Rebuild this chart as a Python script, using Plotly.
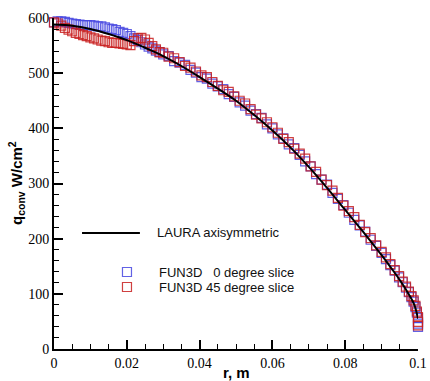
import plotly.graph_objects as go

# ---- data ----
laura_r = [0, 0.005, 0.01, 0.015, 0.02, 0.025, 0.03, 0.035, 0.04, 0.045, 0.05, 0.055,
           0.06, 0.065, 0.07, 0.075, 0.08, 0.085, 0.09, 0.0925, 0.095, 0.0975, 0.099, 0.1]
laura_q = [588, 586, 580, 571, 560, 546, 531, 513, 493, 472, 450, 424,
           396, 365, 330, 292, 252, 212, 170, 148, 125, 99, 80, 55]

fun0_r = [0.000, 0.001, 0.002, 0.003, 0.004, 0.005, 0.006, 0.007, 0.008, 0.009,
          0.010, 0.011, 0.012, 0.013, 0.014, 0.015, 0.016, 0.017, 0.018, 0.019,
          0.020, 0.021, 0.022, 0.023, 0.024, 0.025, 0.026, 0.027, 0.028, 0.029,
          0.0300, 0.0315, 0.0330, 0.0345, 0.0360, 0.0375, 0.0390, 0.0405, 0.0420, 0.0435,
          0.0450, 0.0465, 0.0480, 0.0495, 0.0510, 0.0525, 0.0540, 0.0555, 0.0570, 0.0585,
          0.0600, 0.0615, 0.0630, 0.0645, 0.0660, 0.0675, 0.0690, 0.0705, 0.0720, 0.0735,
          0.0750, 0.0765, 0.0780, 0.0795, 0.0810, 0.0825, 0.0840, 0.0855, 0.0870, 0.0885,
          0.0900, 0.0912, 0.0924, 0.0936, 0.0948, 0.0958, 0.0967, 0.0975, 0.0982, 0.0988,
          0.0993, 0.0997, 0.1000, 0.1000, 0.1000]
fun0_q = [592, 594, 594, 593, 591, 590, 589, 588, 587, 587,
          587, 586, 585, 585, 583, 581, 580, 578, 575, 573,
          571, 567, 563, 560, 556, 552, 548, 545, 541, 538,
          534, 531, 522, 519, 515, 506, 501, 493, 490, 481,
          476, 471, 462, 457, 447, 441, 432, 426, 419, 407,
          400, 389, 382, 371, 364, 352, 340, 331, 317, 307,
          298, 283, 272, 261, 247, 234, 224, 213, 198, 187,
          174, 163, 152, 142, 130, 121, 111, 103, 94, 86,
          76, 66, 56, 46, 40]

fun45_r = fun0_r
fun45_q = [592, 590, 586, 582, 579, 576, 573, 571, 569, 567,
           565, 563, 561, 559, 558, 556, 555, 555, 554, 553,
           552, 551, 558, 563, 564, 561, 555, 549, 543, 538,
           537, 530, 527, 520, 513, 510, 503, 496, 493, 484,
           477, 469, 466, 458, 450, 445, 435, 425, 418, 411,
           402, 392, 381, 375, 363, 354, 345, 331, 321, 307,
           297, 287, 274, 260, 250, 239, 225, 212, 201, 188,
           176, 166, 154, 143, 132, 122, 113, 104, 96, 88,
           78, 68, 58, 49, 43]

x_ticks = [0, 0.02, 0.04, 0.06, 0.08, 0.1]
x_ticklabels = ["0", "0.02", "0.04", "0.06", "0.08", "0.1"]
y_ticks = [0, 100, 200, 300, 400, 500, 600]

legend_labels = ["LAURA axisymmetric", "FUN3D&nbsp;&nbsp;&nbsp;0 degree slice", "FUN3D 45 degree slice"]

BLUE = "rgba(70,70,225,0.85)"
RED = "rgba(200,30,30,0.85)"

fig = go.Figure()
fig.add_trace(go.Scatter(x=fun0_r, y=fun0_q, mode="markers", cliponaxis=False,
                         marker=dict(symbol="square-open", size=9, color=BLUE,
                                     line=dict(width=1.2, color=BLUE))))
fig.add_trace(go.Scatter(x=fun45_r, y=fun45_q, mode="markers", cliponaxis=False,
                         marker=dict(symbol="square-open", size=9, color=RED,
                                     line=dict(width=1.2, color=RED))))
fig.add_trace(go.Scatter(x=laura_r, y=laura_q, mode="lines", line_shape="spline",
                         line=dict(color="black", width=2), cliponaxis=False))

tickfont = dict(family="Liberation Serif", size=14, color="black")

fig.update_layout(
    width=430, height=381,
    margin=dict(l=54, r=12, t=18, b=32),
    paper_bgcolor="white", plot_bgcolor="white",
    showlegend=False,
    xaxis=dict(range=[0, 0.1], tickvals=x_ticks, ticktext=x_ticklabels, automargin=False,
               ticks="inside", ticklen=9, tickwidth=1.5, tickcolor="black",
               showline=True, linecolor="black", linewidth=2, showgrid=False,
               zeroline=False, tickfont=tickfont,
               minor=dict(ticks="inside", ticklen=5, tickwidth=1, dtick=0.005,
                          tickcolor="black", showgrid=False)),
    yaxis=dict(range=[0, 600], tickvals=y_ticks, automargin=False,
               ticks="inside", ticklen=9, tickwidth=1.5, tickcolor="black",
               showline=True, linecolor="black", linewidth=2, showgrid=False,
               zeroline=False, tickfont=tickfont,
               minor=dict(ticks="inside", ticklen=5, tickwidth=1, dtick=20,
                          tickcolor="black", showgrid=False)),
)

lab_font = dict(family="Liberation Sans", size=15, color="black")
fig.add_annotation(text="<b>r, m</b>", xref="paper", yref="paper", x=0.5, y=0,
                   xanchor="center", yanchor="middle", yshift=-23, showarrow=False, font=lab_font)
fig.add_annotation(text="<b>q<sub>conv</sub> W/cm<sup>2</sup></b>", xref="paper", yref="paper",
                   x=0, y=0.5, xanchor="right", yanchor="middle", xshift=-25, textangle=-90,
                   showarrow=False, font=lab_font)

# legend (drawn manually)
leg_font = dict(family="Liberation Sans", size=13, color="#111111")
fig.add_shape(type="line", xref="paper", yref="paper", x0=0.077, x1=0.236, y0=0.3505, y1=0.3505,
              line=dict(color="black", width=2))
fig.add_annotation(text=legend_labels[0], xref="paper", yref="paper", x=0.277, y=0.3505,
                   xanchor="left", yanchor="middle", showarrow=False, font=leg_font)
for yy, col, lab in [(0.2326, BLUE, legend_labels[1]), (0.1873, RED, legend_labels[2])]:
    fig.add_shape(type="rect", xref="paper", yref="paper", xsizemode="pixel", ysizemode="pixel",
                  xanchor=0.2005, yanchor=yy, x0=-4.5, x1=4.5, y0=-4.5, y1=4.5,
                  line=dict(color=col, width=1.2))
    fig.add_annotation(text=lab, xref="paper", yref="paper", x=0.283, y=yy,
                       xanchor="left", yanchor="middle", showarrow=False, font=leg_font)

fig.write_html("out.html")
